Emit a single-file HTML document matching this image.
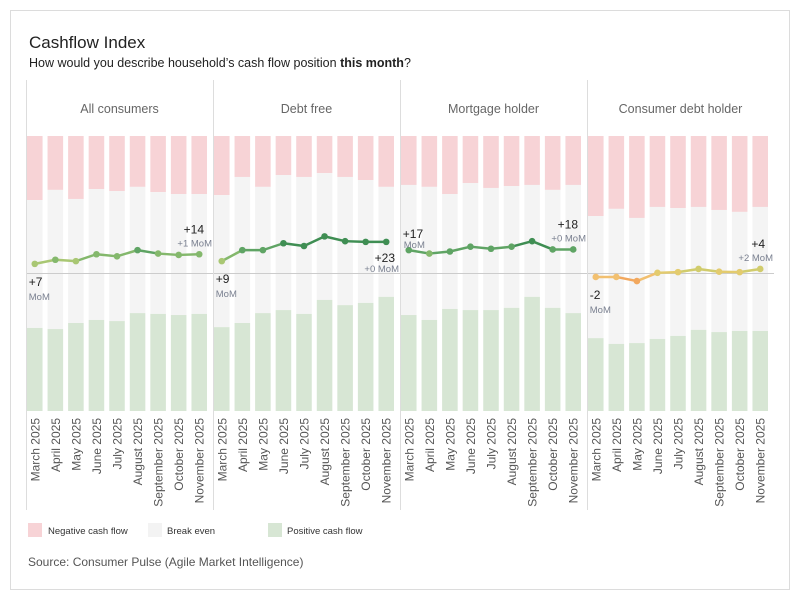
<!DOCTYPE html>
<html><head><meta charset="utf-8"><style>
body{margin:0;background:#fff;font-family:"Liberation Sans",sans-serif}
svg text{font-family:"Liberation Sans",sans-serif}
</style></head><body>
<svg id="chart" width="800" height="600" xmlns="http://www.w3.org/2000/svg">
<rect x="10.5" y="10.5" width="779" height="579" fill="#fff" stroke="#dcdcdc"/>
<text x="29" y="48" font-size="17" fill="#222">Cashflow Index</text>
<text x="29" y="67" font-size="12.5" fill="#222">How would you describe household’s cash flow position <tspan font-weight="bold">this month</tspan>?</text>
<g id="panels"></g>
<g>
<rect x="28" y="523" width="14" height="14" fill="#f7d3d6"/>
<text x="48" y="534" font-size="9.5" fill="#333">Negative cash flow</text>
<rect x="148" y="523" width="14" height="14" fill="#f3f3f3"/>
<text x="167" y="534" font-size="9.5" fill="#333">Break even</text>
<rect x="268" y="523" width="14" height="14" fill="#d7e6d4"/>
<text x="287" y="534" font-size="9.5" fill="#333">Positive cash flow</text>
</g>
<text x="28" y="566" font-size="12" fill="#555">Source: Consumer Pulse (Agile Market Intelligence)</text>
</svg>
<script>
const months=["March 2025","April 2025","May 2025","June 2025","July 2025","August 2025","September 2025","October 2025","November 2025"];
const segments=["All consumers","Debt free","Mortgage holder","Consumer debt holder"];
const negative=[[23.3,19.6,22.9,19.3,20,18.5,20.4,21.1,21.1],[21.5,14.9,18.5,14.2,14.9,13.5,14.9,16,18.5],[17.8,18.5,21.1,17.1,18.9,18.2,17.8,19.6,17.8],[29.1,26.5,29.8,25.8,26.2,25.8,26.9,27.6,25.8]];
const positive=[[30.2,29.8,32,33.1,32.7,35.6,35.3,34.9,35.3],[30.5,32,35.6,36.7,35.3,40.4,38.5,39.3,41.5],[34.9,33.1,37.1,36.7,36.7,37.5,41.5,37.5,35.6],[26.5,24.4,24.7,26.2,27.3,29.5,28.7,29.1,29.1]];
const indexVals=[[7,10,9,14,12.5,17,14.5,13.5,14],[9,17,17,22,20,27,23.5,23,23],[17,14.5,16,19.5,18,19.5,23.5,17.5,17.5],[-2.5,-2.5,-5.5,0.5,1,3.3,1.3,1,3.3]];
const firstLabels=["+7","+9","+17","-2"];
const lastLabels=["+14","+23","+18","+4"];
const lastMoM=["+1 MoM","+0 MoM","+0 MoM","+2 MoM"];
const NS="http://www.w3.org/2000/svg";
const g=document.getElementById('panels');
const panelX=[26,213,400,587], panelW=187;
const plotTop=136,plotBot=411,H=plotBot-plotTop,zeroY=(plotTop+plotBot)/2;
const yPct=p=>plotTop+p/100*H;
const yIdx=v=>zeroY-v*H/200;
function mk(t,a,p){const e=document.createElementNS(NS,t);for(const k in a)e.setAttribute(k,a[k]);(p||g).appendChild(e);return e;}
function col(v){
 if(v<-3)return "#f2a85e";
 if(v<0)return "#f2c070";
 if(v<2)return "#e3cb6e";
 if(v<5)return "#d1cc6c";
 if(v<10)return "#a9c773";
 if(v<15)return "#84b86c";
 if(v<20)return "#5fa464";
 return "#3f8e53";
}
const fl=mk('line',{x1:26.5,y1:80,x2:26.5,y2:510,stroke:'#ddd'});


segments.forEach((s,pi)=>{
 const px=panelX[pi];
 const pg=mk('g',{});
 
 
 if(pi>0){const l=mk('line',{x1:px+0.5,y1:80,x2:px+0.5,y2:510,stroke:'#ddd'},pg);
  
  }
 const ht=mk('text',{x:px+panelW/2,y:113,'text-anchor':'middle','font-size':12.5,fill:'#666'},pg);
 ht.textContent=s;
 
 
 const bx0=px+1, step=(panelW-2)/9, bw=step-5;
 const cx=i=>bx0+i*step+bw/2;
 months.forEach((m,i)=>{
  const x=bx0+i*step;
  const n=negative[pi][i], p=positive[pi][i];
  let r=mk('rect',{x:x,y:plotTop,width:bw,height:yPct(n)-plotTop,fill:'#f7d3d6'},pg);
  
  
  r=mk('rect',{x:x,y:yPct(n),width:bw,height:yPct(100-p)-yPct(n),fill:'#f4f4f4'},pg);
  
  
  r=mk('rect',{x:x,y:yPct(100-p),width:bw,height:plotBot-yPct(100-p),fill:'#d7e6d4'},pg);
  
  
  const t=mk('text',{x:0,y:0,'text-anchor':'end','font-size':12,fill:'#555',transform:`translate(${cx(i)+4.5},418) rotate(-90)`},pg);
  t.textContent=m;
  
  
 });
 const z=mk('line',{x1:px+1,y1:zeroY,x2:px+panelW,y2:zeroY,stroke:'#ccc'},pg);
 
 
 const v=indexVals[pi];
 for(let i=0;i<v.length-1;i++){
  const l=mk('line',{x1:cx(i),y1:yIdx(v[i]),x2:cx(i+1),y2:yIdx(v[i+1]),stroke:col((v[i]+v[i+1])/2),'stroke-width':2.5,'stroke-linecap':'round'},pg);
  
  
 }
 v.forEach((val,i)=>{
  const c=mk('circle',{cx:cx(i),cy:yIdx(val),r:3.3,fill:col(val)},pg);
  
  
 });
 const fy=yIdx(v[0]);
 const fx=cx(0)-6;
 let t1,t2;
 if(pi==2){
  t1=mk('text',{x:fx,y:fy-12,'font-size':12,fill:'#222'},pg);
  t2=mk('text',{x:fx+1,y:fy-2,'font-size':9.5,fill:'#7a8090'},pg);
 }else{
  t1=mk('text',{x:fx,y:fy+22,'font-size':12,fill:'#222'},pg);
  t2=mk('text',{x:fx,y:fy+36,'font-size':9.5,fill:'#7a8090'},pg);
 }
 t1.textContent=firstLabels[pi];
 t2.textContent="MoM";
 
 
 
 
 const ly=yIdx(v[8]), lx=px+panelW-1;
 let t3,t4;
 if(pi==1){
  t3=mk('text',{x:lx-4,y:ly+20,'text-anchor':'end','font-size':12,fill:'#222'},pg);
  t4=mk('text',{x:lx,y:ly+30,'text-anchor':'end','font-size':9.5,fill:'#7a8090'},pg);
 }else{
  t3=mk('text',{x:lx-8,y:ly-21,'text-anchor':'end','font-size':12,fill:'#222'},pg);
  t4=mk('text',{x:lx,y:ly-8,'text-anchor':'end','font-size':9.5,fill:'#7a8090'},pg);
 }
 t3.textContent=lastLabels[pi];
 t4.textContent=lastMoM[pi];
 
 
 
 
});
</script>
</body></html>
